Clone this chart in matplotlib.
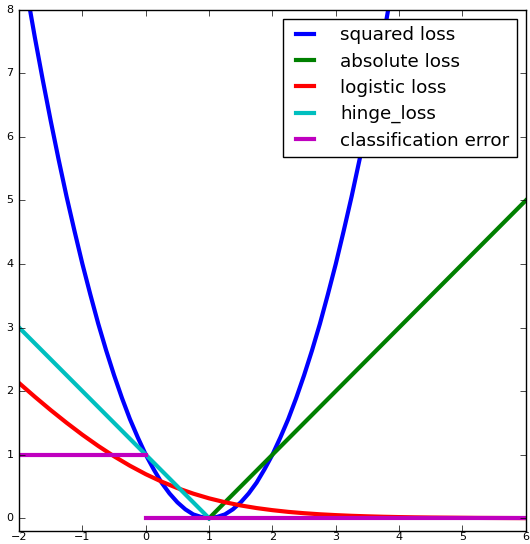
import matplotlib
matplotlib.use("Agg")
import matplotlib.pyplot as plt

plt.style.use("classic")

# sample points
x_sq = [-2.0, -1.875, -1.75, -1.625, -1.5, -1.375, -1.25, -1.125, -1.0, -0.875,
        -0.75, -0.625, -0.5, -0.375, -0.25, -0.125, 0.0, 0.125, 0.25, 0.375,
        0.5, 0.625, 0.75, 0.875, 1.0, 1.125, 1.25, 1.375, 1.5, 1.625,
        1.75, 1.875, 2.0, 2.125, 2.25, 2.375, 2.5, 2.625, 2.75, 2.875,
        3.0, 3.125, 3.25, 3.375, 3.5, 3.625, 3.75, 3.875, 4.0]
squared = [9.0, 8.27, 7.56, 6.89, 6.25, 5.64, 5.06, 4.52, 4.0, 3.52,
           3.06, 2.64, 2.25, 1.89, 1.56, 1.27, 1.0, 0.77, 0.56, 0.39,
           0.25, 0.14, 0.06, 0.02, 0.0, 0.02, 0.06, 0.14, 0.25, 0.39,
           0.56, 0.77, 1.0, 1.27, 1.56, 1.89, 2.25, 2.64, 3.06, 3.52,
           4.0, 4.52, 5.06, 5.64, 6.25, 6.89, 7.56, 8.27, 9.0]

x_abs = [1.0, 6.0]
absolute = [0.0, 5.0]

x_log = [-2.0, -1.75, -1.5, -1.25, -1.0, -0.75, -0.5, -0.25, 0.0, 0.25, 0.5, 0.75,
         1.0, 1.25, 1.5, 1.75, 2.0, 2.25, 2.5, 2.75, 3.0, 3.25, 3.5, 3.75,
         4.0, 4.25, 4.5, 4.75, 5.0, 5.25, 5.5, 5.75, 6.0]
logistic = [2.127, 1.910, 1.701, 1.502, 1.313, 1.137, 0.974, 0.826, 0.693, 0.576,
            0.474, 0.387, 0.313, 0.252, 0.201, 0.160, 0.127, 0.100, 0.079, 0.062,
            0.049, 0.038, 0.030, 0.023, 0.018, 0.014, 0.011, 0.009, 0.007, 0.005,
            0.004, 0.003, 0.002]

x_hinge = [-2.0, 1.0]
hinge = [3.0, 0.0]

x_cls = [-2.0, 0.0, None, 0.0, 6.0]
cls_err = [1.0, 1.0, None, 0.0, 0.0]

fig = plt.figure(figsize=(5.3, 5.44), dpi=100, facecolor="white")
ax = fig.add_axes([0.036, 0.024, 0.956, 0.958])

ax.plot(x_sq, squared, "b", lw=3, label="squared loss")
ax.plot(x_abs, absolute, "g", lw=3, label="absolute loss")
ax.plot(x_log, logistic, "r", lw=3, label="logistic loss")
ax.plot(x_hinge, hinge, "c", lw=3, label="hinge_loss")
ax.plot(x_cls, cls_err, "m", lw=3, label="classification error")

ax.set_xlim(-2, 6)
ax.set_ylim(-0.2, 8)
ax.tick_params(labelsize=8)
ax.tick_params(axis="x", pad=1)
ax.legend(loc="upper right", fontsize=13.2, labelspacing=0.45, handletextpad=1.1,
          handlelength=1.6, borderaxespad=0.5)

fig.savefig("out.png", dpi=100, facecolor="white")
